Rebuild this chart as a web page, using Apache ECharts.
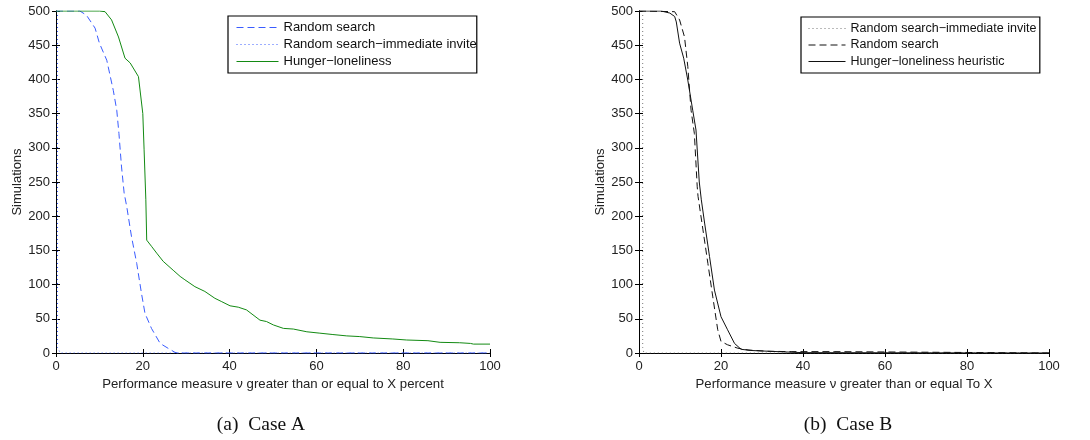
<!DOCTYPE html>
<html>
<head>
<meta charset="utf-8">
<script src="https://cdn.jsdelivr.net/npm/echarts@6/dist/echarts.min.js"></script>
<style>
  html, body { margin: 0; padding: 0; background: #fff; }
  #chart { width: 1090px; height: 440px; }
</style>
</head>
<body>
<div id="chart"></div>
<script>
// tick labels
const xTicks = [0, 20, 40, 60, 80, 100];
const yTicks = [0, 50, 100, 150, 200, 250, 300, 350, 400, 450, 500];

// Case A
const aRandomX = [0, 5.5, 7, 9, 10, 11.7, 13.2, 14, 14.5, 15.1, 15.7, 16.3, 17.4, 18.6, 19.7, 20.5, 22, 24, 25.8, 27.4, 28, 100];
const aRandomY = [500, 500, 494, 475, 453, 428, 384, 355, 321, 272, 234, 214, 170, 131, 87, 58, 36, 14, 7, 1, 0, 0];
const aInviteX = [0.35, 0.35, 1, 100];
const aInviteY = [500, 8, 0, 0];
const aHungerX = [0, 10, 11.3, 12.8, 14.4, 15.9, 17.1, 19, 20, 20.3, 20.7, 20.9, 22, 23.2, 24.7, 27, 28.6, 29.7, 32, 34.3, 36.6, 38.2, 40.1, 42, 43.9, 47, 48.5, 50.1, 52.4, 54.7, 57.8, 60.8, 63.8, 67, 70, 73.1, 77.6, 80.8, 85.7, 88.5, 93, 95.5, 96.2, 100];
const aHungerY = [500, 500, 499, 487, 462, 431, 424, 404, 350, 297, 224, 165, 156, 146, 134, 121, 112, 107, 97, 90, 80, 75, 69, 67, 63, 48, 46, 41, 36, 35, 31, 29, 27, 25, 24, 22, 20.5, 19, 18, 15.6, 15, 14, 13, 13];

// Case B
const bInviteX = [0.9, 0.9, 1.2, 100];
const bInviteY = [500, 8, 0, 0];
const bRandomX = [0, 8.7, 9.9, 11.1, 11.9, 12.7, 13.5, 14.2, 14.4, 15.6, 16.8, 18, 19.2, 20, 21.6, 24.1, 26.6, 31.4, 37.1, 47.6, 48, 100];
const bRandomY = [500, 499, 487, 462, 419, 355, 321, 243, 229, 180, 131, 82, 34, 17, 12, 7, 4.4, 2.5, 2, 2, 0, 0];
const bHungerX = [0, 5.4, 7.5, 8.7, 9.1, 9.9, 10.9, 11.9, 13.1, 13.9, 14.7, 15.2, 16, 17.2, 18.4, 20, 21.6, 23.3, 24.9, 27.3, 31.4, 40, 100];
const bHungerY = [500, 500, 497, 492, 484, 453, 431, 399, 355, 326, 250, 224, 190, 141, 92, 53, 34, 14, 5.4, 3.7, 2.6, 0.5, 0];

const namesA = ["Random search", "Random search\u2212immediate invite", "Hunger\u2212loneliness"];
const namesB = ["Random search\u2212immediate invite", "Random search", "Hunger\u2212loneliness heuristic"];
const xNameA = "Performance measure \u03bd greater than or equal to X percent";
const xNameB = "Performance measure \u03bd greater than or equal To X";
const captionA = "(a)  Case A";
const captionB = "(b)  Case B";

function zip(xs, ys) {
  return xs.map((x, i) => [x, ys[i]]);
}

const font = "Liberation Sans";
const blue = "#3a5cff";
const green = "#138a13";
const dash = [7, 4];
const dot = [1, 3];

// line looks, in legend order
const looksA = [[blue, dash], [blue, dot], [green, "solid"]];
const looksB = [["#777", dot], ["#111", dash], ["#111", "solid"]];

function mainX(gridIndex, name) {
  return {
    type: "value", gridIndex: gridIndex, min: 0, max: 100, interval: 20,
    name: name, nameLocation: "middle", nameGap: 22,
    nameTextStyle: { fontFamily: font, fontSize: 13.2, color: "#222" },
    splitLine: { show: false },
    axisLine: { lineStyle: { color: "#000", width: 1 } },
    axisTick: { inside: true, length: 4, lineStyle: { color: "#000" } },
    axisLabel: { margin: 7, fontFamily: font, fontSize: 13, color: "#222" },
  };
}
function topX(gridIndex) {
  return {
    type: "value", gridIndex: gridIndex, position: "top", min: 0, max: 100, interval: 20,
    splitLine: { show: false },
    axisLine: { lineStyle: { color: "#000", width: 1 } },
    axisTick: { inside: true, length: 4, lineStyle: { color: "#000" } },
    axisLabel: { show: false },
  };
}
function mainY(gridIndex) {
  return {
    type: "value", gridIndex: gridIndex, min: 0, max: 500, interval: 50,
    name: "Simulations", nameLocation: "middle", nameGap: 32,
    nameTextStyle: { fontFamily: font, fontSize: 13, color: "#222" },
    splitLine: { show: false },
    axisLine: { show: true, lineStyle: { color: "#000", width: 1 } },
    axisTick: { show: true, inside: true, length: 4, lineStyle: { color: "#000" } },
    axisLabel: { margin: 6, fontFamily: font, fontSize: 13, color: "#222" },
  };
}
function rightY(gridIndex) {
  return {
    type: "value", gridIndex: gridIndex, position: "right", min: 0, max: 500, interval: 50,
    splitLine: { show: false },
    axisLine: { show: true, lineStyle: { color: "#000", width: 1 } },
    axisTick: { show: true, inside: true, length: 4, lineStyle: { color: "#000" } },
    axisLabel: { show: false },
  };
}
function line(name, data, xi, yi, look) {
  return {
    type: "line", name: name, data: data, xAxisIndex: xi, yAxisIndex: yi,
    symbol: "none", silent: true, animation: false,
    lineStyle: { color: look[0], width: 1, type: look[1] },
    itemStyle: { color: look[0] },
  };
}
function legendData(names, looks, suffix) {
  return names.map((n, i) => ({
    name: n + suffix,
    lineStyle: { color: looks[i][0], width: 1, type: looks[i][1] },
  }));
}

const chart = echarts.init(document.getElementById("chart"));
chart.setOption({
  animation: false,
  backgroundColor: "#fff",
  grid: [
    { left: 56, top: 11, width: 434, height: 342 },
    { left: 639, top: 11, width: 410, height: 342 },
  ],
  xAxis: [mainX(0, xNameA), mainX(1, xNameB), topX(0), topX(1)],
  yAxis: [mainY(0), mainY(1), rightY(0), rightY(1)],
  legend: [
    {
      data: legendData(namesA, looksA, ""),
      orient: "vertical", left: 228, top: 16,
      itemWidth: 42, itemHeight: 13, itemGap: 4,
      padding: [5, 0, 5, 8],
      borderColor: "#000", borderWidth: 1.2, backgroundColor: "#fff",
      itemStyle: { opacity: 0, borderWidth: 0 },
      textStyle: { fontFamily: font, fontSize: 13, color: "#111" },
      selectedMode: false,
    },
    {
      data: legendData(namesB, looksB, " "),
      orient: "vertical", left: 801, top: 17,
      itemWidth: 37, itemHeight: 13, itemGap: 3.5,
      padding: [5, 0, 5, 7],
      borderColor: "#000", borderWidth: 1.2, backgroundColor: "#fff",
      itemStyle: { opacity: 0, borderWidth: 0 },
      textStyle: { fontFamily: font, fontSize: 12.5, color: "#111" },
      selectedMode: false,
    },
  ],
  series: [
    line(namesA[0], zip(aRandomX, aRandomY), 0, 0, looksA[0]),
    line(namesA[1], zip(aInviteX, aInviteY), 0, 0, looksA[1]),
    line(namesA[2], zip(aHungerX, aHungerY), 0, 0, looksA[2]),
    line(namesB[0] + " ", zip(bInviteX, bInviteY), 1, 1, looksB[0]),
    line(namesB[1] + " ", zip(bRandomX, bRandomY), 1, 1, looksB[1]),
    line(namesB[2] + " ", zip(bHungerX, bHungerY), 1, 1, looksB[2]),
  ],
  graphic: [
    { type: "text", x: 261, y: 425, style: { text: captionA, font: "19.5px 'Liberation Serif'", fill: "#111", textAlign: "center", textVerticalAlign: "middle" } },
    { type: "text", x: 848, y: 425, style: { text: captionB, font: "19.5px 'Liberation Serif'", fill: "#111", textAlign: "center", textVerticalAlign: "middle" } },
  ],
});
</script>
</body>
</html>
